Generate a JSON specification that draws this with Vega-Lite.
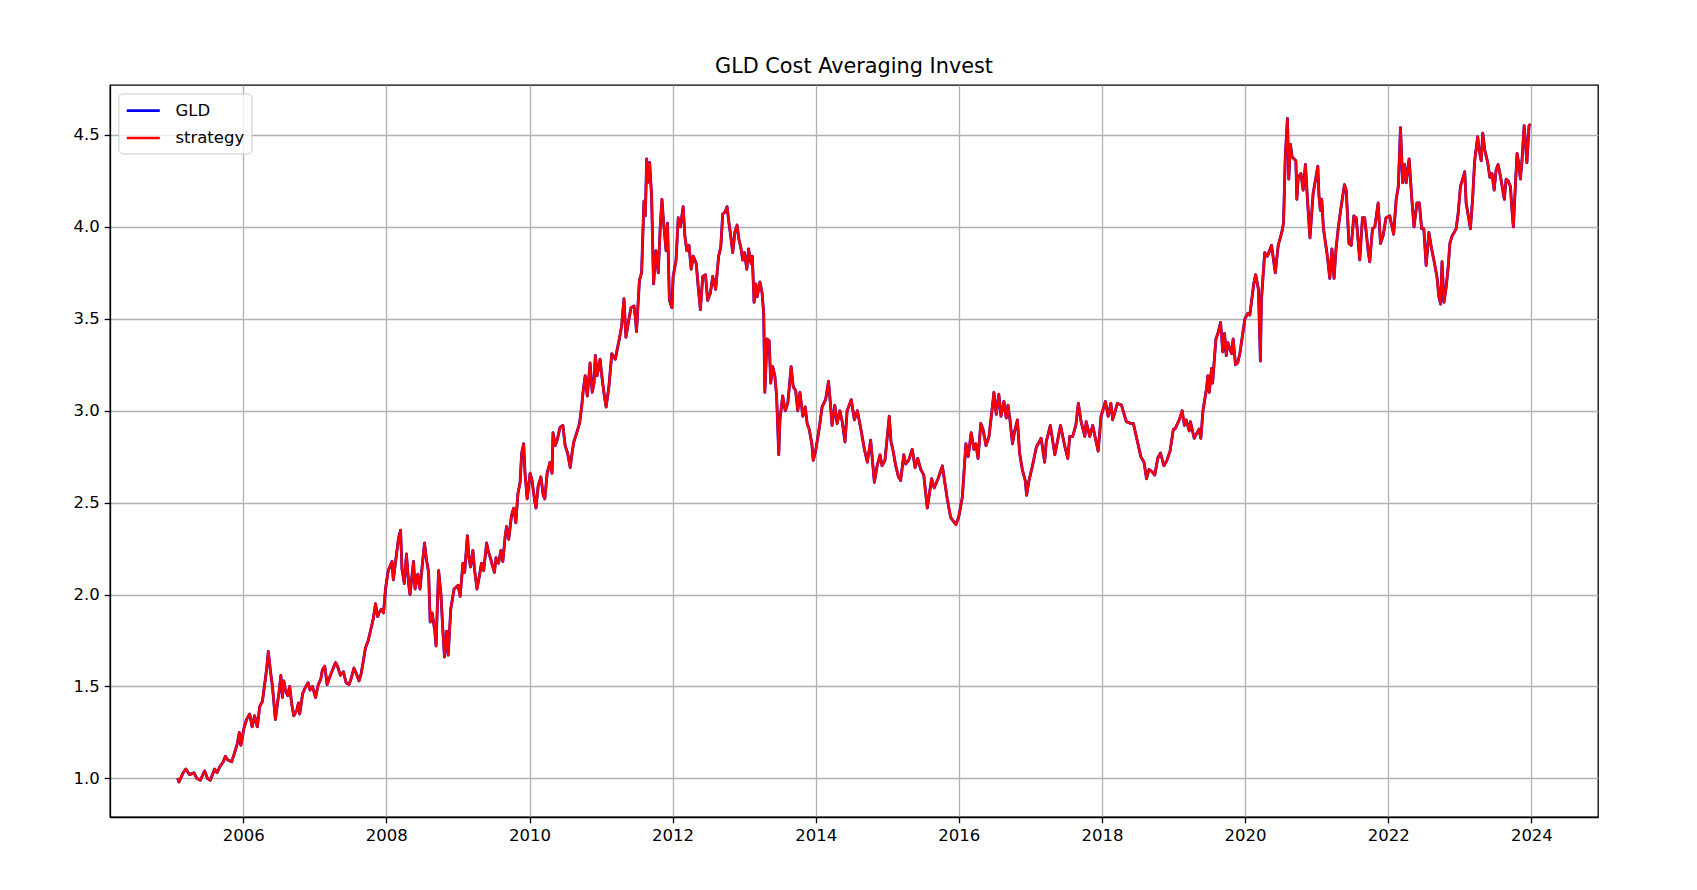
{
  "$schema": "https://vega.github.io/schema/vega-lite/v6.json",
  "width": 1488,
  "height": 732,
  "autosize": "none",
  "padding": {"left": 110, "top": 85, "right": 99, "bottom": 73},
  "background": "white",
  "title": {
    "text": "GLD Cost Averaging Invest",
    "font": "DejaVu Sans",
    "fontSize": 20.8,
    "fontWeight": "normal",
    "color": "black",
    "anchor": "middle",
    "offset": 7
  },
  "config": {
    "view": {"stroke": "black", "strokeWidth": 1.3},
    "axis": {
      "labelFont": "DejaVu Sans",
      "labelFontSize": 16.5,
      "labelColor": "black",
      "tickColor": "black",
      "tickSize": 5.8,
      "tickWidth": 1.3,
      "labelPadding": 5,
      "domainColor": "black",
      "domainWidth": 1.3,
      "grid": true,
      "gridColor": "#b0b0b0",
      "gridWidth": 1.3,
      "title": null
    },
    "legend": {
      "labelFont": "DejaVu Sans",
      "labelFontSize": 16.5,
      "labelColor": "black"
    }
  },
  "data": {
    "values": [
      {"date": "2005-01-31", "GLD": 1.00, "strategy": 1.00},
      {"date": "2005-02-07", "GLD": 0.98, "strategy": 0.98},
      {"date": "2005-02-28", "GLD": 1.03, "strategy": 1.03},
      {"date": "2005-03-14", "GLD": 1.05, "strategy": 1.05},
      {"date": "2005-04-02", "GLD": 1.02, "strategy": 1.02},
      {"date": "2005-04-24", "GLD": 1.03, "strategy": 1.03},
      {"date": "2005-05-09", "GLD": 1.00, "strategy": 1.00},
      {"date": "2005-05-27", "GLD": 0.99, "strategy": 0.99},
      {"date": "2005-06-18", "GLD": 1.04, "strategy": 1.04},
      {"date": "2005-07-02", "GLD": 1.00, "strategy": 1.00},
      {"date": "2005-07-17", "GLD": 0.99, "strategy": 0.99},
      {"date": "2005-08-08", "GLD": 1.05, "strategy": 1.05},
      {"date": "2005-08-20", "GLD": 1.03, "strategy": 1.03},
      {"date": "2005-09-02", "GLD": 1.06, "strategy": 1.06},
      {"date": "2005-09-21", "GLD": 1.09, "strategy": 1.09},
      {"date": "2005-10-02", "GLD": 1.12, "strategy": 1.12},
      {"date": "2005-10-14", "GLD": 1.10, "strategy": 1.10},
      {"date": "2005-11-03", "GLD": 1.09, "strategy": 1.09},
      {"date": "2005-11-18", "GLD": 1.14, "strategy": 1.14},
      {"date": "2005-12-02", "GLD": 1.19, "strategy": 1.19},
      {"date": "2005-12-12", "GLD": 1.25, "strategy": 1.25},
      {"date": "2005-12-20", "GLD": 1.18, "strategy": 1.18},
      {"date": "2005-12-30", "GLD": 1.24, "strategy": 1.24},
      {"date": "2006-01-04", "GLD": 1.27, "strategy": 1.27},
      {"date": "2006-01-18", "GLD": 1.32, "strategy": 1.32},
      {"date": "2006-02-03", "GLD": 1.35, "strategy": 1.35},
      {"date": "2006-02-15", "GLD": 1.28, "strategy": 1.28},
      {"date": "2006-02-28", "GLD": 1.34, "strategy": 1.34},
      {"date": "2006-03-14", "GLD": 1.28, "strategy": 1.28},
      {"date": "2006-03-26", "GLD": 1.39, "strategy": 1.39},
      {"date": "2006-04-09", "GLD": 1.42, "strategy": 1.42},
      {"date": "2006-04-20", "GLD": 1.51, "strategy": 1.51},
      {"date": "2006-05-01", "GLD": 1.60, "strategy": 1.60},
      {"date": "2006-05-09", "GLD": 1.69, "strategy": 1.69},
      {"date": "2006-05-19", "GLD": 1.59, "strategy": 1.59},
      {"date": "2006-05-30", "GLD": 1.50, "strategy": 1.50},
      {"date": "2006-06-14", "GLD": 1.32, "strategy": 1.32},
      {"date": "2006-06-25", "GLD": 1.41, "strategy": 1.41},
      {"date": "2006-07-04", "GLD": 1.48, "strategy": 1.48},
      {"date": "2006-07-12", "GLD": 1.56, "strategy": 1.56},
      {"date": "2006-07-20", "GLD": 1.44, "strategy": 1.44},
      {"date": "2006-07-27", "GLD": 1.53, "strategy": 1.53},
      {"date": "2006-08-04", "GLD": 1.48, "strategy": 1.48},
      {"date": "2006-08-15", "GLD": 1.45, "strategy": 1.45},
      {"date": "2006-08-26", "GLD": 1.50, "strategy": 1.50},
      {"date": "2006-09-06", "GLD": 1.40, "strategy": 1.40},
      {"date": "2006-09-16", "GLD": 1.34, "strategy": 1.34},
      {"date": "2006-10-01", "GLD": 1.37, "strategy": 1.37},
      {"date": "2006-10-10", "GLD": 1.41, "strategy": 1.41},
      {"date": "2006-10-16", "GLD": 1.35, "strategy": 1.35},
      {"date": "2006-10-31", "GLD": 1.46, "strategy": 1.46},
      {"date": "2006-11-12", "GLD": 1.49, "strategy": 1.49},
      {"date": "2006-11-28", "GLD": 1.52, "strategy": 1.52},
      {"date": "2006-12-08", "GLD": 1.48, "strategy": 1.48},
      {"date": "2006-12-20", "GLD": 1.50, "strategy": 1.50},
      {"date": "2007-01-05", "GLD": 1.44, "strategy": 1.44},
      {"date": "2007-01-19", "GLD": 1.51, "strategy": 1.51},
      {"date": "2007-02-01", "GLD": 1.54, "strategy": 1.54},
      {"date": "2007-02-09", "GLD": 1.59, "strategy": 1.59},
      {"date": "2007-02-21", "GLD": 1.61, "strategy": 1.61},
      {"date": "2007-03-05", "GLD": 1.51, "strategy": 1.51},
      {"date": "2007-03-18", "GLD": 1.55, "strategy": 1.55},
      {"date": "2007-04-02", "GLD": 1.59, "strategy": 1.59},
      {"date": "2007-04-17", "GLD": 1.63, "strategy": 1.63},
      {"date": "2007-04-27", "GLD": 1.61, "strategy": 1.61},
      {"date": "2007-05-12", "GLD": 1.56, "strategy": 1.56},
      {"date": "2007-05-27", "GLD": 1.58, "strategy": 1.58},
      {"date": "2007-06-10", "GLD": 1.52, "strategy": 1.52},
      {"date": "2007-06-25", "GLD": 1.51, "strategy": 1.51},
      {"date": "2007-07-05", "GLD": 1.54, "strategy": 1.54},
      {"date": "2007-07-20", "GLD": 1.60, "strategy": 1.60},
      {"date": "2007-08-01", "GLD": 1.57, "strategy": 1.57},
      {"date": "2007-08-15", "GLD": 1.53, "strategy": 1.53},
      {"date": "2007-08-26", "GLD": 1.57, "strategy": 1.57},
      {"date": "2007-09-06", "GLD": 1.64, "strategy": 1.64},
      {"date": "2007-09-17", "GLD": 1.71, "strategy": 1.71},
      {"date": "2007-10-01", "GLD": 1.75, "strategy": 1.75},
      {"date": "2007-10-12", "GLD": 1.80, "strategy": 1.80},
      {"date": "2007-10-27", "GLD": 1.87, "strategy": 1.87},
      {"date": "2007-11-07", "GLD": 1.95, "strategy": 1.95},
      {"date": "2007-11-18", "GLD": 1.88, "strategy": 1.88},
      {"date": "2007-11-25", "GLD": 1.90, "strategy": 1.90},
      {"date": "2007-12-06", "GLD": 1.92, "strategy": 1.92},
      {"date": "2007-12-18", "GLD": 1.90, "strategy": 1.90},
      {"date": "2007-12-28", "GLD": 2.03, "strategy": 2.03},
      {"date": "2008-01-11", "GLD": 2.13, "strategy": 2.13},
      {"date": "2008-01-30", "GLD": 2.18, "strategy": 2.18},
      {"date": "2008-02-06", "GLD": 2.08, "strategy": 2.08},
      {"date": "2008-02-21", "GLD": 2.21, "strategy": 2.21},
      {"date": "2008-03-04", "GLD": 2.31, "strategy": 2.31},
      {"date": "2008-03-14", "GLD": 2.35, "strategy": 2.35},
      {"date": "2008-03-21", "GLD": 2.14, "strategy": 2.14},
      {"date": "2008-04-02", "GLD": 2.06, "strategy": 2.06},
      {"date": "2008-04-13", "GLD": 2.22, "strategy": 2.22},
      {"date": "2008-04-24", "GLD": 2.06, "strategy": 2.06},
      {"date": "2008-05-01", "GLD": 2.00, "strategy": 2.00},
      {"date": "2008-05-19", "GLD": 2.18, "strategy": 2.18},
      {"date": "2008-05-27", "GLD": 2.03, "strategy": 2.03},
      {"date": "2008-06-10", "GLD": 2.11, "strategy": 2.11},
      {"date": "2008-06-21", "GLD": 2.03, "strategy": 2.03},
      {"date": "2008-07-02", "GLD": 2.15, "strategy": 2.15},
      {"date": "2008-07-14", "GLD": 2.28, "strategy": 2.28},
      {"date": "2008-07-24", "GLD": 2.19, "strategy": 2.19},
      {"date": "2008-08-04", "GLD": 2.12, "strategy": 2.12},
      {"date": "2008-08-12", "GLD": 1.85, "strategy": 1.85},
      {"date": "2008-08-22", "GLD": 1.90, "strategy": 1.90},
      {"date": "2008-09-05", "GLD": 1.80, "strategy": 1.80},
      {"date": "2008-09-11", "GLD": 1.72, "strategy": 1.72},
      {"date": "2008-09-19", "GLD": 1.98, "strategy": 1.98},
      {"date": "2008-09-24", "GLD": 2.13, "strategy": 2.13},
      {"date": "2008-10-06", "GLD": 2.00, "strategy": 2.00},
      {"date": "2008-10-15", "GLD": 1.82, "strategy": 1.82},
      {"date": "2008-10-24", "GLD": 1.66, "strategy": 1.66},
      {"date": "2008-11-04", "GLD": 1.80, "strategy": 1.80},
      {"date": "2008-11-12", "GLD": 1.67, "strategy": 1.67},
      {"date": "2008-11-25", "GLD": 1.92, "strategy": 1.92},
      {"date": "2008-12-12", "GLD": 2.03, "strategy": 2.03},
      {"date": "2009-01-01", "GLD": 2.05, "strategy": 2.05},
      {"date": "2009-01-12", "GLD": 1.99, "strategy": 1.99},
      {"date": "2009-01-26", "GLD": 2.17, "strategy": 2.17},
      {"date": "2009-02-04", "GLD": 2.12, "strategy": 2.12},
      {"date": "2009-02-18", "GLD": 2.32, "strategy": 2.32},
      {"date": "2009-02-25", "GLD": 2.21, "strategy": 2.21},
      {"date": "2009-03-06", "GLD": 2.15, "strategy": 2.15},
      {"date": "2009-03-18", "GLD": 2.24, "strategy": 2.24},
      {"date": "2009-03-26", "GLD": 2.14, "strategy": 2.14},
      {"date": "2009-04-08", "GLD": 2.03, "strategy": 2.03},
      {"date": "2009-04-20", "GLD": 2.10, "strategy": 2.10},
      {"date": "2009-05-01", "GLD": 2.17, "strategy": 2.17},
      {"date": "2009-05-12", "GLD": 2.13, "strategy": 2.13},
      {"date": "2009-05-27", "GLD": 2.28, "strategy": 2.28},
      {"date": "2009-06-06", "GLD": 2.23, "strategy": 2.23},
      {"date": "2009-06-18", "GLD": 2.19, "strategy": 2.19},
      {"date": "2009-06-25", "GLD": 2.16, "strategy": 2.16},
      {"date": "2009-07-06", "GLD": 2.12, "strategy": 2.12},
      {"date": "2009-07-14", "GLD": 2.20, "strategy": 2.20},
      {"date": "2009-07-27", "GLD": 2.17, "strategy": 2.17},
      {"date": "2009-08-08", "GLD": 2.24, "strategy": 2.24},
      {"date": "2009-08-18", "GLD": 2.18, "strategy": 2.18},
      {"date": "2009-08-30", "GLD": 2.32, "strategy": 2.32},
      {"date": "2009-09-06", "GLD": 2.37, "strategy": 2.37},
      {"date": "2009-09-17", "GLD": 2.30, "strategy": 2.30},
      {"date": "2009-10-01", "GLD": 2.43, "strategy": 2.43},
      {"date": "2009-10-12", "GLD": 2.47, "strategy": 2.47},
      {"date": "2009-10-23", "GLD": 2.39, "strategy": 2.39},
      {"date": "2009-11-03", "GLD": 2.55, "strategy": 2.55},
      {"date": "2009-11-14", "GLD": 2.61, "strategy": 2.61},
      {"date": "2009-11-22", "GLD": 2.77, "strategy": 2.77},
      {"date": "2009-12-02", "GLD": 2.82, "strategy": 2.82},
      {"date": "2009-12-09", "GLD": 2.66, "strategy": 2.66},
      {"date": "2009-12-20", "GLD": 2.52, "strategy": 2.52},
      {"date": "2010-01-04", "GLD": 2.66, "strategy": 2.66},
      {"date": "2010-01-14", "GLD": 2.62, "strategy": 2.62},
      {"date": "2010-01-26", "GLD": 2.52, "strategy": 2.52},
      {"date": "2010-02-03", "GLD": 2.47, "strategy": 2.47},
      {"date": "2010-02-14", "GLD": 2.59, "strategy": 2.59},
      {"date": "2010-02-28", "GLD": 2.64, "strategy": 2.64},
      {"date": "2010-03-12", "GLD": 2.54, "strategy": 2.54},
      {"date": "2010-03-20", "GLD": 2.52, "strategy": 2.52},
      {"date": "2010-04-01", "GLD": 2.66, "strategy": 2.66},
      {"date": "2010-04-16", "GLD": 2.72, "strategy": 2.72},
      {"date": "2010-04-26", "GLD": 2.66, "strategy": 2.66},
      {"date": "2010-05-01", "GLD": 2.88, "strategy": 2.88},
      {"date": "2010-05-12", "GLD": 2.81, "strategy": 2.81},
      {"date": "2010-05-22", "GLD": 2.84, "strategy": 2.84},
      {"date": "2010-06-06", "GLD": 2.91, "strategy": 2.91},
      {"date": "2010-06-20", "GLD": 2.92, "strategy": 2.92},
      {"date": "2010-07-02", "GLD": 2.81, "strategy": 2.81},
      {"date": "2010-07-14", "GLD": 2.77, "strategy": 2.77},
      {"date": "2010-07-28", "GLD": 2.69, "strategy": 2.69},
      {"date": "2010-08-06", "GLD": 2.77, "strategy": 2.77},
      {"date": "2010-08-15", "GLD": 2.83, "strategy": 2.83},
      {"date": "2010-08-30", "GLD": 2.88, "strategy": 2.88},
      {"date": "2010-09-13", "GLD": 2.93, "strategy": 2.93},
      {"date": "2010-09-24", "GLD": 3.02, "strategy": 3.02},
      {"date": "2010-10-01", "GLD": 3.10, "strategy": 3.10},
      {"date": "2010-10-12", "GLD": 3.19, "strategy": 3.19},
      {"date": "2010-10-23", "GLD": 3.08, "strategy": 3.08},
      {"date": "2010-11-06", "GLD": 3.26, "strategy": 3.26},
      {"date": "2010-11-17", "GLD": 3.10, "strategy": 3.10},
      {"date": "2010-11-26", "GLD": 3.15, "strategy": 3.15},
      {"date": "2010-12-03", "GLD": 3.30, "strategy": 3.30},
      {"date": "2010-12-12", "GLD": 3.19, "strategy": 3.19},
      {"date": "2010-12-27", "GLD": 3.28, "strategy": 3.28},
      {"date": "2011-01-06", "GLD": 3.18, "strategy": 3.18},
      {"date": "2011-01-18", "GLD": 3.08, "strategy": 3.08},
      {"date": "2011-01-27", "GLD": 3.02, "strategy": 3.02},
      {"date": "2011-02-10", "GLD": 3.13, "strategy": 3.13},
      {"date": "2011-02-25", "GLD": 3.31, "strategy": 3.31},
      {"date": "2011-03-15", "GLD": 3.28, "strategy": 3.28},
      {"date": "2011-03-22", "GLD": 3.32, "strategy": 3.32},
      {"date": "2011-04-06", "GLD": 3.40, "strategy": 3.40},
      {"date": "2011-04-16", "GLD": 3.46, "strategy": 3.46},
      {"date": "2011-04-28", "GLD": 3.61, "strategy": 3.61},
      {"date": "2011-05-08", "GLD": 3.40, "strategy": 3.40},
      {"date": "2011-05-22", "GLD": 3.49, "strategy": 3.49},
      {"date": "2011-06-03", "GLD": 3.56, "strategy": 3.56},
      {"date": "2011-06-18", "GLD": 3.57, "strategy": 3.57},
      {"date": "2011-06-25", "GLD": 3.51, "strategy": 3.51},
      {"date": "2011-07-01", "GLD": 3.43, "strategy": 3.43},
      {"date": "2011-07-16", "GLD": 3.71, "strategy": 3.71},
      {"date": "2011-07-27", "GLD": 3.75, "strategy": 3.75},
      {"date": "2011-08-08", "GLD": 4.14, "strategy": 4.14},
      {"date": "2011-08-15", "GLD": 4.06, "strategy": 4.06},
      {"date": "2011-08-22", "GLD": 4.37, "strategy": 4.37},
      {"date": "2011-08-26", "GLD": 4.24, "strategy": 4.24},
      {"date": "2011-09-06", "GLD": 4.35, "strategy": 4.35},
      {"date": "2011-09-16", "GLD": 4.17, "strategy": 4.17},
      {"date": "2011-09-26", "GLD": 3.69, "strategy": 3.69},
      {"date": "2011-10-08", "GLD": 3.87, "strategy": 3.87},
      {"date": "2011-10-20", "GLD": 3.75, "strategy": 3.75},
      {"date": "2011-10-31", "GLD": 4.02, "strategy": 4.02},
      {"date": "2011-11-08", "GLD": 4.15, "strategy": 4.15},
      {"date": "2011-11-15", "GLD": 4.04, "strategy": 4.04},
      {"date": "2011-11-29", "GLD": 3.87, "strategy": 3.87},
      {"date": "2011-12-06", "GLD": 4.02, "strategy": 4.02},
      {"date": "2011-12-16", "GLD": 3.60, "strategy": 3.60},
      {"date": "2011-12-29", "GLD": 3.56, "strategy": 3.56},
      {"date": "2012-01-04", "GLD": 3.73, "strategy": 3.73},
      {"date": "2012-01-19", "GLD": 3.82, "strategy": 3.82},
      {"date": "2012-01-30", "GLD": 4.05, "strategy": 4.05},
      {"date": "2012-02-10", "GLD": 4.00, "strategy": 4.00},
      {"date": "2012-02-24", "GLD": 4.11, "strategy": 4.11},
      {"date": "2012-03-04", "GLD": 3.95, "strategy": 3.95},
      {"date": "2012-03-14", "GLD": 3.87, "strategy": 3.87},
      {"date": "2012-03-25", "GLD": 3.90, "strategy": 3.90},
      {"date": "2012-04-05", "GLD": 3.77, "strategy": 3.77},
      {"date": "2012-04-16", "GLD": 3.84, "strategy": 3.84},
      {"date": "2012-05-01", "GLD": 3.80, "strategy": 3.80},
      {"date": "2012-05-12", "GLD": 3.66, "strategy": 3.66},
      {"date": "2012-05-22", "GLD": 3.55, "strategy": 3.55},
      {"date": "2012-06-03", "GLD": 3.73, "strategy": 3.73},
      {"date": "2012-06-17", "GLD": 3.74, "strategy": 3.74},
      {"date": "2012-06-28", "GLD": 3.60, "strategy": 3.60},
      {"date": "2012-07-12", "GLD": 3.64, "strategy": 3.64},
      {"date": "2012-07-24", "GLD": 3.73, "strategy": 3.73},
      {"date": "2012-08-08", "GLD": 3.66, "strategy": 3.66},
      {"date": "2012-08-23", "GLD": 3.84, "strategy": 3.84},
      {"date": "2012-09-03", "GLD": 3.89, "strategy": 3.89},
      {"date": "2012-09-13", "GLD": 4.07, "strategy": 4.07},
      {"date": "2012-09-24", "GLD": 4.08, "strategy": 4.08},
      {"date": "2012-10-05", "GLD": 4.11, "strategy": 4.11},
      {"date": "2012-10-15", "GLD": 4.02, "strategy": 4.02},
      {"date": "2012-10-24", "GLD": 3.95, "strategy": 3.95},
      {"date": "2012-11-03", "GLD": 3.86, "strategy": 3.86},
      {"date": "2012-11-14", "GLD": 3.97, "strategy": 3.97},
      {"date": "2012-11-25", "GLD": 4.01, "strategy": 4.01},
      {"date": "2012-12-05", "GLD": 3.93, "strategy": 3.93},
      {"date": "2012-12-14", "GLD": 3.89, "strategy": 3.89},
      {"date": "2012-12-24", "GLD": 3.82, "strategy": 3.82},
      {"date": "2013-01-02", "GLD": 3.86, "strategy": 3.86},
      {"date": "2013-01-14", "GLD": 3.77, "strategy": 3.77},
      {"date": "2013-01-23", "GLD": 3.88, "strategy": 3.88},
      {"date": "2013-02-05", "GLD": 3.80, "strategy": 3.80},
      {"date": "2013-02-11", "GLD": 3.84, "strategy": 3.84},
      {"date": "2013-02-20", "GLD": 3.59, "strategy": 3.59},
      {"date": "2013-03-01", "GLD": 3.69, "strategy": 3.69},
      {"date": "2013-03-08", "GLD": 3.62, "strategy": 3.62},
      {"date": "2013-03-22", "GLD": 3.70, "strategy": 3.70},
      {"date": "2013-04-02", "GLD": 3.64, "strategy": 3.64},
      {"date": "2013-04-10", "GLD": 3.53, "strategy": 3.53},
      {"date": "2013-04-16", "GLD": 3.10, "strategy": 3.10},
      {"date": "2013-04-27", "GLD": 3.39, "strategy": 3.39},
      {"date": "2013-05-08", "GLD": 3.38, "strategy": 3.38},
      {"date": "2013-05-16", "GLD": 3.15, "strategy": 3.15},
      {"date": "2013-05-26", "GLD": 3.24, "strategy": 3.24},
      {"date": "2013-06-06", "GLD": 3.19, "strategy": 3.19},
      {"date": "2013-06-15", "GLD": 3.08, "strategy": 3.08},
      {"date": "2013-06-26", "GLD": 2.76, "strategy": 2.76},
      {"date": "2013-07-02", "GLD": 2.95, "strategy": 2.95},
      {"date": "2013-07-16", "GLD": 3.08, "strategy": 3.08},
      {"date": "2013-07-29", "GLD": 3.00, "strategy": 3.00},
      {"date": "2013-08-11", "GLD": 3.04, "strategy": 3.04},
      {"date": "2013-08-19", "GLD": 3.13, "strategy": 3.13},
      {"date": "2013-08-28", "GLD": 3.24, "strategy": 3.24},
      {"date": "2013-09-08", "GLD": 3.13, "strategy": 3.13},
      {"date": "2013-09-20", "GLD": 3.11, "strategy": 3.11},
      {"date": "2013-10-01", "GLD": 3.00, "strategy": 3.00},
      {"date": "2013-10-12", "GLD": 3.10, "strategy": 3.10},
      {"date": "2013-10-27", "GLD": 2.97, "strategy": 2.97},
      {"date": "2013-11-08", "GLD": 3.02, "strategy": 3.02},
      {"date": "2013-11-18", "GLD": 2.93, "strategy": 2.93},
      {"date": "2013-11-28", "GLD": 2.90, "strategy": 2.90},
      {"date": "2013-12-12", "GLD": 2.82, "strategy": 2.82},
      {"date": "2013-12-19", "GLD": 2.73, "strategy": 2.73},
      {"date": "2013-12-31", "GLD": 2.78, "strategy": 2.78},
      {"date": "2014-01-18", "GLD": 2.90, "strategy": 2.90},
      {"date": "2014-02-02", "GLD": 3.02, "strategy": 3.02},
      {"date": "2014-02-20", "GLD": 3.06, "strategy": 3.06},
      {"date": "2014-03-07", "GLD": 3.16, "strategy": 3.16},
      {"date": "2014-03-18", "GLD": 3.02, "strategy": 3.02},
      {"date": "2014-03-25", "GLD": 2.92, "strategy": 2.92},
      {"date": "2014-04-08", "GLD": 3.03, "strategy": 3.03},
      {"date": "2014-04-20", "GLD": 2.93, "strategy": 2.93},
      {"date": "2014-05-04", "GLD": 3.00, "strategy": 3.00},
      {"date": "2014-05-16", "GLD": 2.94, "strategy": 2.94},
      {"date": "2014-05-30", "GLD": 2.83, "strategy": 2.83},
      {"date": "2014-06-10", "GLD": 3.00, "strategy": 3.00},
      {"date": "2014-07-01", "GLD": 3.06, "strategy": 3.06},
      {"date": "2014-07-17", "GLD": 2.95, "strategy": 2.95},
      {"date": "2014-08-01", "GLD": 3.00, "strategy": 3.00},
      {"date": "2014-08-19", "GLD": 2.90, "strategy": 2.90},
      {"date": "2014-09-06", "GLD": 2.79, "strategy": 2.79},
      {"date": "2014-09-21", "GLD": 2.72, "strategy": 2.72},
      {"date": "2014-10-08", "GLD": 2.84, "strategy": 2.84},
      {"date": "2014-10-27", "GLD": 2.61, "strategy": 2.61},
      {"date": "2014-11-10", "GLD": 2.70, "strategy": 2.70},
      {"date": "2014-11-25", "GLD": 2.76, "strategy": 2.76},
      {"date": "2014-12-05", "GLD": 2.70, "strategy": 2.70},
      {"date": "2014-12-20", "GLD": 2.73, "strategy": 2.73},
      {"date": "2015-01-11", "GLD": 2.97, "strategy": 2.97},
      {"date": "2015-01-20", "GLD": 2.83, "strategy": 2.83},
      {"date": "2015-01-29", "GLD": 2.79, "strategy": 2.79},
      {"date": "2015-02-13", "GLD": 2.70, "strategy": 2.70},
      {"date": "2015-02-27", "GLD": 2.64, "strategy": 2.64},
      {"date": "2015-03-10", "GLD": 2.62, "strategy": 2.62},
      {"date": "2015-03-26", "GLD": 2.76, "strategy": 2.76},
      {"date": "2015-04-05", "GLD": 2.71, "strategy": 2.71},
      {"date": "2015-04-20", "GLD": 2.73, "strategy": 2.73},
      {"date": "2015-05-08", "GLD": 2.79, "strategy": 2.79},
      {"date": "2015-05-23", "GLD": 2.69, "strategy": 2.69},
      {"date": "2015-06-05", "GLD": 2.74, "strategy": 2.74},
      {"date": "2015-06-21", "GLD": 2.68, "strategy": 2.68},
      {"date": "2015-07-06", "GLD": 2.65, "strategy": 2.65},
      {"date": "2015-07-16", "GLD": 2.55, "strategy": 2.55},
      {"date": "2015-07-24", "GLD": 2.47, "strategy": 2.47},
      {"date": "2015-08-15", "GLD": 2.63, "strategy": 2.63},
      {"date": "2015-08-28", "GLD": 2.58, "strategy": 2.58},
      {"date": "2015-09-17", "GLD": 2.63, "strategy": 2.63},
      {"date": "2015-10-09", "GLD": 2.70, "strategy": 2.70},
      {"date": "2015-10-20", "GLD": 2.62, "strategy": 2.62},
      {"date": "2015-11-03", "GLD": 2.52, "strategy": 2.52},
      {"date": "2015-11-20", "GLD": 2.42, "strategy": 2.42},
      {"date": "2015-12-17", "GLD": 2.38, "strategy": 2.38},
      {"date": "2015-12-31", "GLD": 2.42, "strategy": 2.42},
      {"date": "2016-01-19", "GLD": 2.53, "strategy": 2.53},
      {"date": "2016-02-06", "GLD": 2.82, "strategy": 2.82},
      {"date": "2016-02-18", "GLD": 2.75, "strategy": 2.75},
      {"date": "2016-03-04", "GLD": 2.88, "strategy": 2.88},
      {"date": "2016-03-18", "GLD": 2.79, "strategy": 2.79},
      {"date": "2016-03-28", "GLD": 2.82, "strategy": 2.82},
      {"date": "2016-04-08", "GLD": 2.74, "strategy": 2.74},
      {"date": "2016-04-22", "GLD": 2.93, "strategy": 2.93},
      {"date": "2016-05-03", "GLD": 2.90, "strategy": 2.90},
      {"date": "2016-05-19", "GLD": 2.81, "strategy": 2.81},
      {"date": "2016-06-03", "GLD": 2.86, "strategy": 2.86},
      {"date": "2016-06-18", "GLD": 3.00, "strategy": 3.00},
      {"date": "2016-06-28", "GLD": 3.10, "strategy": 3.10},
      {"date": "2016-07-10", "GLD": 2.98, "strategy": 2.98},
      {"date": "2016-07-23", "GLD": 3.09, "strategy": 3.09},
      {"date": "2016-08-03", "GLD": 2.97, "strategy": 2.97},
      {"date": "2016-08-18", "GLD": 3.05, "strategy": 3.05},
      {"date": "2016-08-30", "GLD": 2.96, "strategy": 2.96},
      {"date": "2016-09-08", "GLD": 3.03, "strategy": 3.03},
      {"date": "2016-09-18", "GLD": 2.95, "strategy": 2.95},
      {"date": "2016-10-01", "GLD": 2.82, "strategy": 2.82},
      {"date": "2016-10-10", "GLD": 2.88, "strategy": 2.88},
      {"date": "2016-10-26", "GLD": 2.95, "strategy": 2.95},
      {"date": "2016-11-06", "GLD": 2.77, "strategy": 2.77},
      {"date": "2016-11-20", "GLD": 2.68, "strategy": 2.68},
      {"date": "2016-12-05", "GLD": 2.62, "strategy": 2.62},
      {"date": "2016-12-12", "GLD": 2.54, "strategy": 2.54},
      {"date": "2016-12-24", "GLD": 2.62, "strategy": 2.62},
      {"date": "2017-01-11", "GLD": 2.70, "strategy": 2.70},
      {"date": "2017-01-30", "GLD": 2.80, "strategy": 2.80},
      {"date": "2017-02-24", "GLD": 2.85, "strategy": 2.85},
      {"date": "2017-03-14", "GLD": 2.72, "strategy": 2.72},
      {"date": "2017-03-22", "GLD": 2.83, "strategy": 2.83},
      {"date": "2017-04-12", "GLD": 2.92, "strategy": 2.92},
      {"date": "2017-05-05", "GLD": 2.76, "strategy": 2.76},
      {"date": "2017-06-03", "GLD": 2.92, "strategy": 2.92},
      {"date": "2017-06-24", "GLD": 2.81, "strategy": 2.81},
      {"date": "2017-07-10", "GLD": 2.74, "strategy": 2.74},
      {"date": "2017-07-20", "GLD": 2.86, "strategy": 2.86},
      {"date": "2017-08-04", "GLD": 2.86, "strategy": 2.86},
      {"date": "2017-08-20", "GLD": 2.92, "strategy": 2.92},
      {"date": "2017-09-02", "GLD": 3.04, "strategy": 3.04},
      {"date": "2017-09-16", "GLD": 2.94, "strategy": 2.94},
      {"date": "2017-10-05", "GLD": 2.86, "strategy": 2.86},
      {"date": "2017-10-12", "GLD": 2.94, "strategy": 2.94},
      {"date": "2017-10-30", "GLD": 2.86, "strategy": 2.86},
      {"date": "2017-11-14", "GLD": 2.92, "strategy": 2.92},
      {"date": "2017-12-12", "GLD": 2.78, "strategy": 2.78},
      {"date": "2017-12-27", "GLD": 2.97, "strategy": 2.97},
      {"date": "2018-01-18", "GLD": 3.05, "strategy": 3.05},
      {"date": "2018-02-01", "GLD": 2.97, "strategy": 2.97},
      {"date": "2018-02-15", "GLD": 3.04, "strategy": 3.04},
      {"date": "2018-02-24", "GLD": 2.95, "strategy": 2.95},
      {"date": "2018-03-20", "GLD": 3.04, "strategy": 3.04},
      {"date": "2018-04-10", "GLD": 3.03, "strategy": 3.03},
      {"date": "2018-05-05", "GLD": 2.94, "strategy": 2.94},
      {"date": "2018-05-30", "GLD": 2.93, "strategy": 2.93},
      {"date": "2018-06-10", "GLD": 2.93, "strategy": 2.93},
      {"date": "2018-07-01", "GLD": 2.83, "strategy": 2.83},
      {"date": "2018-07-18", "GLD": 2.75, "strategy": 2.75},
      {"date": "2018-08-03", "GLD": 2.72, "strategy": 2.72},
      {"date": "2018-08-16", "GLD": 2.63, "strategy": 2.63},
      {"date": "2018-08-28", "GLD": 2.68, "strategy": 2.68},
      {"date": "2018-09-12", "GLD": 2.67, "strategy": 2.67},
      {"date": "2018-09-27", "GLD": 2.65, "strategy": 2.65},
      {"date": "2018-10-12", "GLD": 2.74, "strategy": 2.74},
      {"date": "2018-10-26", "GLD": 2.77, "strategy": 2.77},
      {"date": "2018-11-13", "GLD": 2.70, "strategy": 2.70},
      {"date": "2018-11-28", "GLD": 2.73, "strategy": 2.73},
      {"date": "2018-12-14", "GLD": 2.78, "strategy": 2.78},
      {"date": "2018-12-31", "GLD": 2.90, "strategy": 2.90},
      {"date": "2019-01-08", "GLD": 2.90, "strategy": 2.90},
      {"date": "2019-01-30", "GLD": 2.95, "strategy": 2.95},
      {"date": "2019-02-14", "GLD": 3.00, "strategy": 3.00},
      {"date": "2019-02-25", "GLD": 2.92, "strategy": 2.92},
      {"date": "2019-03-06", "GLD": 2.95, "strategy": 2.95},
      {"date": "2019-03-22", "GLD": 2.89, "strategy": 2.89},
      {"date": "2019-03-28", "GLD": 2.94, "strategy": 2.94},
      {"date": "2019-04-16", "GLD": 2.85, "strategy": 2.85},
      {"date": "2019-05-11", "GLD": 2.90, "strategy": 2.90},
      {"date": "2019-05-20", "GLD": 2.85, "strategy": 2.85},
      {"date": "2019-05-31", "GLD": 3.00, "strategy": 3.00},
      {"date": "2019-06-18", "GLD": 3.12, "strategy": 3.12},
      {"date": "2019-06-25", "GLD": 3.19, "strategy": 3.19},
      {"date": "2019-07-02", "GLD": 3.10, "strategy": 3.10},
      {"date": "2019-07-14", "GLD": 3.23, "strategy": 3.23},
      {"date": "2019-07-19", "GLD": 3.15, "strategy": 3.15},
      {"date": "2019-08-05", "GLD": 3.39, "strategy": 3.39},
      {"date": "2019-08-15", "GLD": 3.42, "strategy": 3.42},
      {"date": "2019-08-29", "GLD": 3.48, "strategy": 3.48},
      {"date": "2019-09-09", "GLD": 3.32, "strategy": 3.32},
      {"date": "2019-09-18", "GLD": 3.42, "strategy": 3.42},
      {"date": "2019-09-27", "GLD": 3.30, "strategy": 3.30},
      {"date": "2019-10-05", "GLD": 3.37, "strategy": 3.37},
      {"date": "2019-10-24", "GLD": 3.31, "strategy": 3.31},
      {"date": "2019-11-01", "GLD": 3.39, "strategy": 3.39},
      {"date": "2019-11-13", "GLD": 3.25, "strategy": 3.25},
      {"date": "2019-11-24", "GLD": 3.26, "strategy": 3.26},
      {"date": "2019-12-05", "GLD": 3.31, "strategy": 3.31},
      {"date": "2019-12-31", "GLD": 3.50, "strategy": 3.50},
      {"date": "2020-01-15", "GLD": 3.53, "strategy": 3.53},
      {"date": "2020-01-25", "GLD": 3.52, "strategy": 3.52},
      {"date": "2020-02-14", "GLD": 3.69, "strategy": 3.69},
      {"date": "2020-02-24", "GLD": 3.74, "strategy": 3.74},
      {"date": "2020-03-09", "GLD": 3.66, "strategy": 3.66},
      {"date": "2020-03-19", "GLD": 3.27, "strategy": 3.27},
      {"date": "2020-03-24", "GLD": 3.60, "strategy": 3.60},
      {"date": "2020-04-10", "GLD": 3.86, "strategy": 3.86},
      {"date": "2020-04-24", "GLD": 3.84, "strategy": 3.84},
      {"date": "2020-05-15", "GLD": 3.90, "strategy": 3.90},
      {"date": "2020-06-03", "GLD": 3.75, "strategy": 3.75},
      {"date": "2020-06-18", "GLD": 3.90, "strategy": 3.90},
      {"date": "2020-07-06", "GLD": 3.97, "strategy": 3.97},
      {"date": "2020-07-15", "GLD": 4.02, "strategy": 4.02},
      {"date": "2020-07-24", "GLD": 4.38, "strategy": 4.38},
      {"date": "2020-08-04", "GLD": 4.59, "strategy": 4.59},
      {"date": "2020-08-11", "GLD": 4.26, "strategy": 4.26},
      {"date": "2020-08-19", "GLD": 4.45, "strategy": 4.45},
      {"date": "2020-08-28", "GLD": 4.38, "strategy": 4.38},
      {"date": "2020-09-16", "GLD": 4.36, "strategy": 4.36},
      {"date": "2020-09-21", "GLD": 4.15, "strategy": 4.15},
      {"date": "2020-09-28", "GLD": 4.27, "strategy": 4.27},
      {"date": "2020-10-12", "GLD": 4.29, "strategy": 4.29},
      {"date": "2020-10-23", "GLD": 4.20, "strategy": 4.20},
      {"date": "2020-11-04", "GLD": 4.34, "strategy": 4.34},
      {"date": "2020-11-13", "GLD": 4.17, "strategy": 4.17},
      {"date": "2020-11-27", "GLD": 3.94, "strategy": 3.94},
      {"date": "2020-12-13", "GLD": 4.18, "strategy": 4.18},
      {"date": "2021-01-06", "GLD": 4.33, "strategy": 4.33},
      {"date": "2021-01-12", "GLD": 4.17, "strategy": 4.17},
      {"date": "2021-01-19", "GLD": 4.09, "strategy": 4.09},
      {"date": "2021-01-26", "GLD": 4.15, "strategy": 4.15},
      {"date": "2021-02-04", "GLD": 3.99, "strategy": 3.99},
      {"date": "2021-02-24", "GLD": 3.84, "strategy": 3.84},
      {"date": "2021-03-08", "GLD": 3.72, "strategy": 3.72},
      {"date": "2021-03-19", "GLD": 3.88, "strategy": 3.88},
      {"date": "2021-03-30", "GLD": 3.72, "strategy": 3.72},
      {"date": "2021-04-09", "GLD": 3.88, "strategy": 3.88},
      {"date": "2021-04-20", "GLD": 3.99, "strategy": 3.99},
      {"date": "2021-05-01", "GLD": 4.08, "strategy": 4.08},
      {"date": "2021-05-22", "GLD": 4.23, "strategy": 4.23},
      {"date": "2021-05-31", "GLD": 4.20, "strategy": 4.20},
      {"date": "2021-06-14", "GLD": 3.91, "strategy": 3.91},
      {"date": "2021-06-26", "GLD": 3.90, "strategy": 3.90},
      {"date": "2021-07-09", "GLD": 4.06, "strategy": 4.06},
      {"date": "2021-07-21", "GLD": 4.05, "strategy": 4.05},
      {"date": "2021-08-08", "GLD": 3.82, "strategy": 3.82},
      {"date": "2021-08-22", "GLD": 4.05, "strategy": 4.05},
      {"date": "2021-09-02", "GLD": 4.05, "strategy": 4.05},
      {"date": "2021-09-21", "GLD": 3.86, "strategy": 3.86},
      {"date": "2021-09-28", "GLD": 3.81, "strategy": 3.81},
      {"date": "2021-10-12", "GLD": 3.99, "strategy": 3.99},
      {"date": "2021-10-24", "GLD": 4.00, "strategy": 4.00},
      {"date": "2021-11-10", "GLD": 4.13, "strategy": 4.13},
      {"date": "2021-11-22", "GLD": 3.91, "strategy": 3.91},
      {"date": "2021-12-05", "GLD": 3.95, "strategy": 3.95},
      {"date": "2021-12-20", "GLD": 4.05, "strategy": 4.05},
      {"date": "2022-01-08", "GLD": 4.06, "strategy": 4.06},
      {"date": "2022-01-28", "GLD": 3.96, "strategy": 3.96},
      {"date": "2022-02-10", "GLD": 4.15, "strategy": 4.15},
      {"date": "2022-02-21", "GLD": 4.22, "strategy": 4.22},
      {"date": "2022-03-04", "GLD": 4.54, "strategy": 4.54},
      {"date": "2022-03-15", "GLD": 4.24, "strategy": 4.24},
      {"date": "2022-03-25", "GLD": 4.34, "strategy": 4.34},
      {"date": "2022-04-02", "GLD": 4.24, "strategy": 4.24},
      {"date": "2022-04-17", "GLD": 4.37, "strategy": 4.37},
      {"date": "2022-05-01", "GLD": 4.15, "strategy": 4.15},
      {"date": "2022-05-12", "GLD": 4.00, "strategy": 4.00},
      {"date": "2022-05-27", "GLD": 4.13, "strategy": 4.13},
      {"date": "2022-06-08", "GLD": 4.13, "strategy": 4.13},
      {"date": "2022-06-20", "GLD": 3.99, "strategy": 3.99},
      {"date": "2022-07-01", "GLD": 3.99, "strategy": 3.99},
      {"date": "2022-07-13", "GLD": 3.79, "strategy": 3.79},
      {"date": "2022-07-27", "GLD": 3.97, "strategy": 3.97},
      {"date": "2022-08-10", "GLD": 3.88, "strategy": 3.88},
      {"date": "2022-08-23", "GLD": 3.81, "strategy": 3.81},
      {"date": "2022-09-06", "GLD": 3.73, "strategy": 3.73},
      {"date": "2022-09-16", "GLD": 3.62, "strategy": 3.62},
      {"date": "2022-09-25", "GLD": 3.58, "strategy": 3.58},
      {"date": "2022-10-02", "GLD": 3.81, "strategy": 3.81},
      {"date": "2022-10-12", "GLD": 3.59, "strategy": 3.59},
      {"date": "2022-10-24", "GLD": 3.68, "strategy": 3.68},
      {"date": "2022-11-03", "GLD": 3.79, "strategy": 3.79},
      {"date": "2022-11-11", "GLD": 3.91, "strategy": 3.91},
      {"date": "2022-11-22", "GLD": 3.95, "strategy": 3.95},
      {"date": "2022-12-03", "GLD": 3.97, "strategy": 3.97},
      {"date": "2022-12-13", "GLD": 3.99, "strategy": 3.99},
      {"date": "2022-12-24", "GLD": 4.08, "strategy": 4.08},
      {"date": "2023-01-04", "GLD": 4.22, "strategy": 4.22},
      {"date": "2023-01-18", "GLD": 4.27, "strategy": 4.27},
      {"date": "2023-01-26", "GLD": 4.30, "strategy": 4.30},
      {"date": "2023-02-02", "GLD": 4.13, "strategy": 4.13},
      {"date": "2023-02-13", "GLD": 4.06, "strategy": 4.06},
      {"date": "2023-02-24", "GLD": 3.99, "strategy": 3.99},
      {"date": "2023-03-08", "GLD": 4.17, "strategy": 4.17},
      {"date": "2023-03-17", "GLD": 4.35, "strategy": 4.35},
      {"date": "2023-03-22", "GLD": 4.40, "strategy": 4.40},
      {"date": "2023-04-02", "GLD": 4.49, "strategy": 4.49},
      {"date": "2023-04-09", "GLD": 4.42, "strategy": 4.42},
      {"date": "2023-04-20", "GLD": 4.36, "strategy": 4.36},
      {"date": "2023-04-28", "GLD": 4.51, "strategy": 4.51},
      {"date": "2023-05-08", "GLD": 4.42, "strategy": 4.42},
      {"date": "2023-05-23", "GLD": 4.35, "strategy": 4.35},
      {"date": "2023-06-03", "GLD": 4.27, "strategy": 4.27},
      {"date": "2023-06-14", "GLD": 4.29, "strategy": 4.29},
      {"date": "2023-06-25", "GLD": 4.20, "strategy": 4.20},
      {"date": "2023-07-05", "GLD": 4.31, "strategy": 4.31},
      {"date": "2023-07-15", "GLD": 4.34, "strategy": 4.34},
      {"date": "2023-07-28", "GLD": 4.27, "strategy": 4.27},
      {"date": "2023-08-08", "GLD": 4.20, "strategy": 4.20},
      {"date": "2023-08-16", "GLD": 4.15, "strategy": 4.15},
      {"date": "2023-08-25", "GLD": 4.26, "strategy": 4.26},
      {"date": "2023-09-05", "GLD": 4.25, "strategy": 4.25},
      {"date": "2023-09-16", "GLD": 4.22, "strategy": 4.22},
      {"date": "2023-09-24", "GLD": 4.09, "strategy": 4.09},
      {"date": "2023-10-01", "GLD": 4.00, "strategy": 4.00},
      {"date": "2023-10-12", "GLD": 4.24, "strategy": 4.24},
      {"date": "2023-10-20", "GLD": 4.40, "strategy": 4.40},
      {"date": "2023-10-29", "GLD": 4.34, "strategy": 4.34},
      {"date": "2023-11-06", "GLD": 4.26, "strategy": 4.26},
      {"date": "2023-11-14", "GLD": 4.36, "strategy": 4.36},
      {"date": "2023-11-25", "GLD": 4.55, "strategy": 4.55},
      {"date": "2023-12-01", "GLD": 4.47, "strategy": 4.47},
      {"date": "2023-12-09", "GLD": 4.35, "strategy": 4.35},
      {"date": "2023-12-20", "GLD": 4.55, "strategy": 4.55},
      {"date": "2023-12-27", "GLD": 4.56, "strategy": 4.56}
    ]
  },
  "transform": [
    {"fold": ["GLD", "strategy"], "as": ["series", "value"]}
  ],
  "mark": {"type": "line", "interpolate": "linear", "strokeJoin": "round"},
  "encoding": {
    "x": {
      "field": "date",
      "type": "temporal",
      "scale": {
        "domain": [
          {"year": 2004, "month": 2, "date": 21},
          {"year": 2024, "month": 12, "date": 6}
        ]
      },
      "axis": {
        "values": [
          {"year": 2006, "month": 1, "date": 1},
          {"year": 2008, "month": 1, "date": 1},
          {"year": 2010, "month": 1, "date": 1},
          {"year": 2012, "month": 1, "date": 1},
          {"year": 2014, "month": 1, "date": 1},
          {"year": 2016, "month": 1, "date": 1},
          {"year": 2018, "month": 1, "date": 1},
          {"year": 2020, "month": 1, "date": 1},
          {"year": 2022, "month": 1, "date": 1},
          {"year": 2024, "month": 1, "date": 1}
        ],
        "format": "%Y"
      }
    },
    "y": {
      "field": "value",
      "type": "quantitative",
      "scale": {"domain": [0.7895, 4.772], "nice": false, "zero": false},
      "axis": {
        "values": [1.0, 1.5, 2.0, 2.5, 3.0, 3.5, 4.0, 4.5],
        "format": ".1f"
      }
    },
    "color": {
      "field": "series",
      "type": "nominal",
      "scale": {"domain": ["GLD", "strategy"], "range": ["#0000ff", "#ff0000"]},
      "legend": {
        "title": null,
        "orient": "none",
        "legendX": 8.4,
        "legendY": 8.4,
        "symbolType": "M-1.875,0H1.875",
        "symbolSize": 310,
        "symbolStrokeWidth": 2.5,
        "symbolOffset": 7.7,
        "labelOffset": 21.6,
        "rowPadding": 8.4,
        "padding": 6.7,
        "fillColor": "rgba(255,255,255,0.8)",
        "strokeColor": "#cccccc",
        "cornerRadius": 4
      }
    },
    "strokeWidth": {
      "field": "series",
      "type": "nominal",
      "scale": {"domain": ["GLD", "strategy"], "range": [2.9, 2.5]},
      "legend": null
    }
  }
}
